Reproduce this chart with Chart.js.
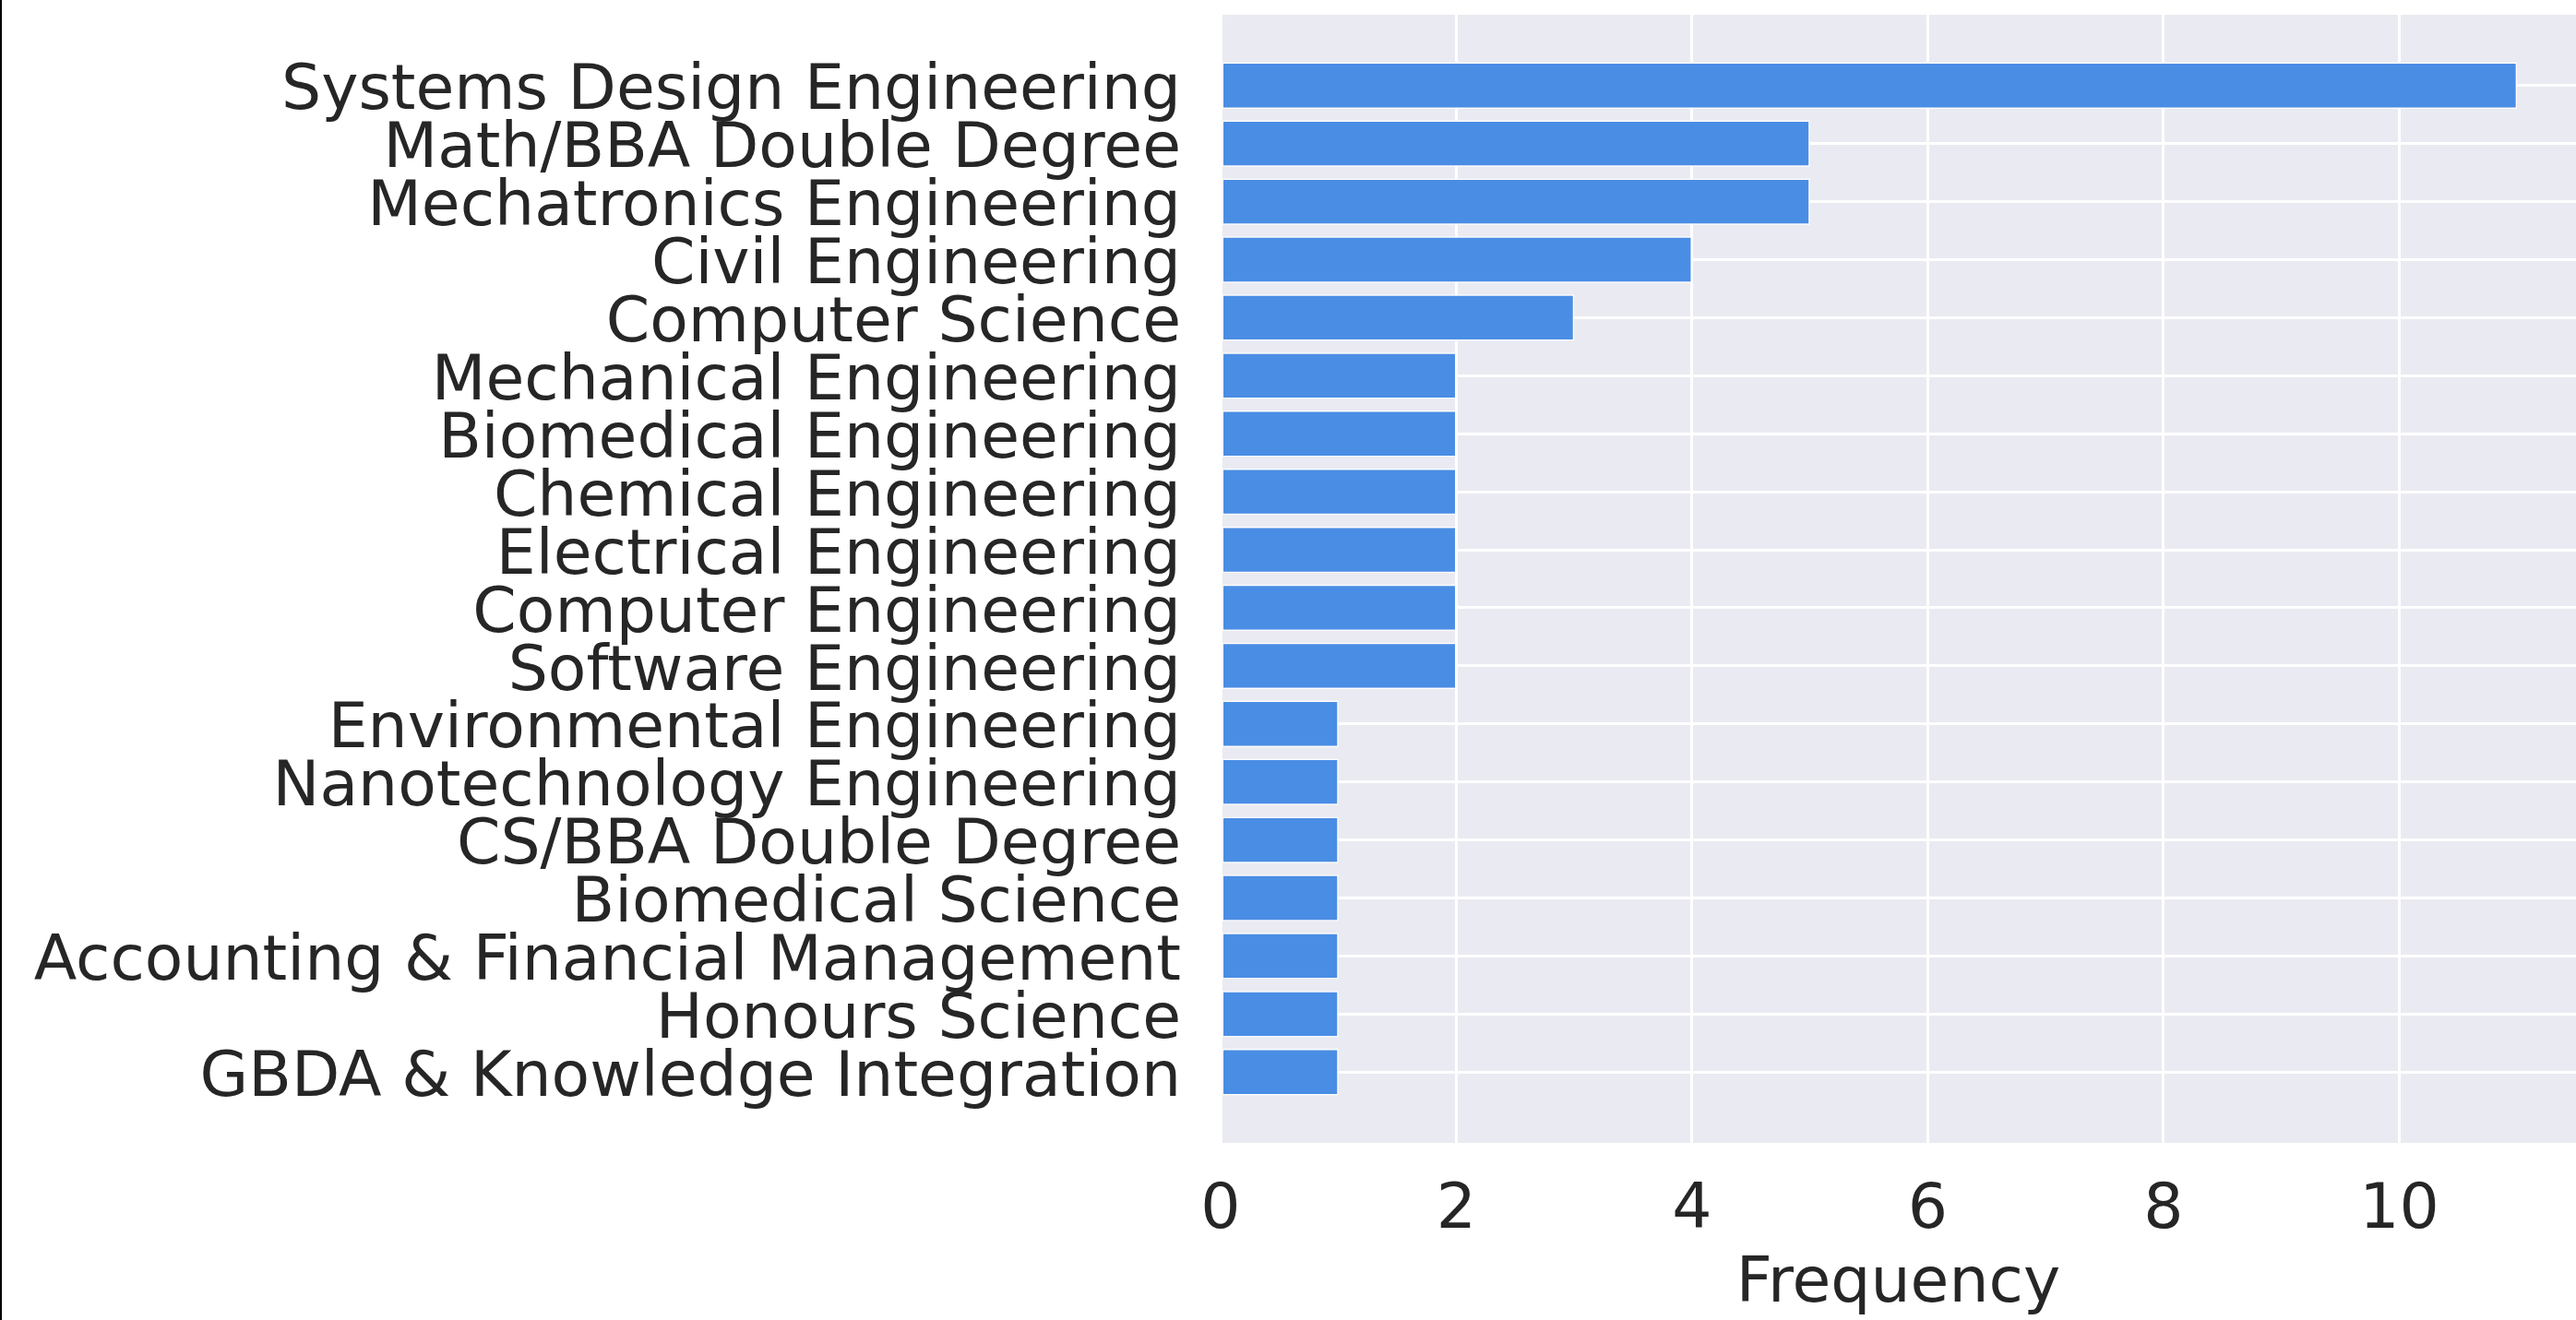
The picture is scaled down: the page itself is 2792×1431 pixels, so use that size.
<!DOCTYPE html>
<html>
<head>
<meta charset="utf-8">
<script src="https://cdn.jsdelivr.net/npm/chart.js@4"></script>
<style>
  html, body { margin: 0; padding: 0; background: #fff; }
  body { width: 2792px; height: 1431px; overflow: hidden; position: relative; }
  #frame { position: absolute; left: 0; top: 0; width: 2px; height: 1431px; background: #000; }
  #wrap { position: absolute; left: 2px; top: 0; width: 2790px; height: 1431px; }
</style>
</head>
<body>
<div id="frame"></div>
<div id="wrap"><canvas id="chartPrograms" width="2790" height="1431"></canvas></div>
<script>
// Programs by frequency, top to bottom as in the picture.
const categories = [
  'Systems Design Engineering',
  'Math/BBA Double Degree',
  'Mechatronics Engineering',
  'Civil Engineering',
  'Computer Science',
  'Mechanical Engineering',
  'Biomedical Engineering',
  'Chemical Engineering',
  'Electrical Engineering',
  'Computer Engineering',
  'Software Engineering',
  'Environmental Engineering',
  'Nanotechnology Engineering',
  'CS/BBA Double Degree',
  'Biomedical Science',
  'Accounting & Financial Management',
  'Honours Science',
  'GBDA & Knowledge Integration',
];
const counts = [11, 5, 5, 4, 3, 2, 2, 2, 2, 2, 2, 1, 1, 1, 1, 1, 1, 1];
const xTicks = [0, 2, 4, 6, 8, 10];

const theme = {
  bar: '#4a8de4',
  panel: '#eaeaf2',
  grid: '#ffffff',
  text: '#262626',
  font: "'DejaVu Sans', sans-serif",
};

// light grey panel behind the plot area
const panelBg = {
  id: 'panelBg',
  beforeDraw(chart) {
    const { ctx, chartArea: a } = chart;
    ctx.save();
    ctx.fillStyle = theme.panel;
    ctx.fillRect(a.left, a.top, a.right - a.left, a.bottom - a.top);
    ctx.restore();
  },
};

const ctx = document.getElementById('chartPrograms').getContext('2d');
new Chart(ctx, {
  type: 'bar',
  data: {
    datasets: [{
      label: 'Frequency',
      data: counts.map((v, i) => ({ x: v, y: i })),
      backgroundColor: theme.bar,
      borderColor: '#ffffff',
      borderWidth: 1.5,
      borderSkipped: false,
      barPercentage: 0.8,
      categoryPercentage: 1,
    }],
  },
  options: {
    indexAxis: 'y',
    responsive: false,
    animation: false,
    devicePixelRatio: 1,
    layout: { padding: { top: 16, right: 0, bottom: 0, left: 0 } },
    plugins: {
      legend: { display: false },
      tooltip: { enabled: false },
    },
    scales: {
      x: {
        type: 'linear',
        position: 'bottom',
        bounds: 'data',
        min: 0,
        max: 11.5,
        afterBuildTicks: (scale) => { scale.ticks = xTicks.map((v) => ({ value: v })); },
        afterFit: (scale) => {
          scale.height = 192;
          scale.paddingLeft = 0;
          scale.paddingRight = 0;
        },
        border: { display: false },
        grid: { color: theme.grid, lineWidth: 3, drawTicks: false },
        ticks: {
          color: theme.text,
          padding: 34,
          font: { family: theme.font, size: 68 },
        },
        title: {
          display: true,
          text: 'Frequency',
          color: theme.text,
          padding: { top: 0, bottom: 0 },
          font: { family: theme.font, size: 68, lineHeight: 1.1 },
        },
      },
      y: {
        type: 'linear',
        reverse: true,
        bounds: 'data',
        offset: false,
        min: -1.22,
        max: categories.length - 1 + 1.22,
        afterBuildTicks: (scale) => { scale.ticks = categories.map((_, i) => ({ value: i })); },
        afterFit: (scale) => {
          scale.width = 1321;
          scale.paddingTop = 0;
          scale.paddingBottom = 0;
        },
        border: { display: false },
        grid: { color: theme.grid, lineWidth: 3, drawTicks: false, offset: false },
        ticks: {
          color: theme.text,
          padding: 43,
          labelOffset: 8,
          autoSkip: false,
          font: { family: theme.font, size: 68 },
          callback: (v) => categories[v],
        },
      },
    },
  },
  plugins: [panelBg],
});
</script>
</body>
</html>
